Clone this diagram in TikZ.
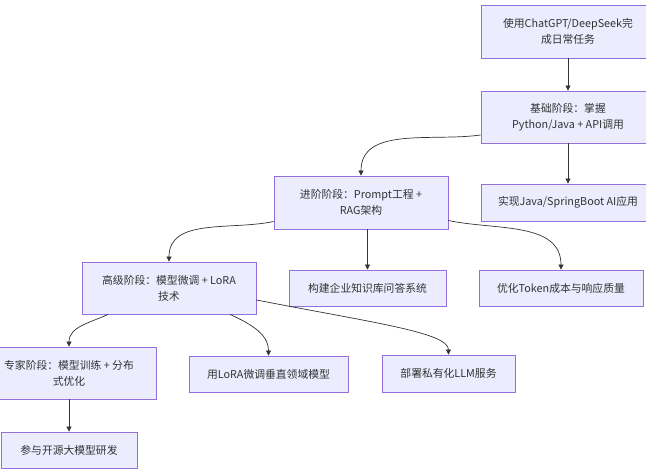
\documentclass[tikz,border=0pt]{standalone}
\usepackage{fontspec}
\setmainfont{Noto Sans CJK SC}
\usepackage{xcolor}
\usetikzlibrary{arrows.meta}
\definecolor{boxfill}{HTML}{ECECFF}
\definecolor{boxline}{HTML}{9370DB}
\definecolor{edgeline}{HTML}{333333}

\begin{document}
\begin{tikzpicture}[x=1pt, y=1pt,
  stage/.style={draw=boxline, fill=boxfill, line width=.8pt, text=edgeline, align=center, inner sep=0pt, font=\fontsize{10.8}{16}\selectfont},
  link/.style={draw=edgeline, line width=.7pt, -{Triangle[length=5pt,width=5pt]}}]
\useasboundingbox (0,0) rectangle (649,473);
\clip (0,0) rectangle (646,473);
\node[stage, minimum width=174pt, minimum height=53pt] (use) at (568,441.5) {使用ChatGPT/DeepSeek完\\成日常任务};
\node[stage, minimum width=174pt, minimum height=52pt] (basic) at (568,356) {基础阶段：掌握\\Python/Java + API调用};
\node[stage, minimum width=174pt, minimum height=37pt] (java) at (568,270.5) {实现Java/SpringBoot AI应用};
\node[stage, minimum width=174pt, minimum height=53pt] (adv) at (361,270.5) {进阶阶段：Prompt工程 +\\RAG架构};
\node[stage, minimum width=174pt, minimum height=52pt] (high) at (169,185) {高级阶段：模型微调 + LoRA\\技术};
\node[stage, minimum width=157pt, minimum height=36pt] (kb) at (367.5,185) {构建企业知识库问答系统};
\node[stage, minimum width=164pt, minimum height=36pt] (token) at (561,185) {优化Token成本与响应质量};
\node[stage, minimum width=174pt, minimum height=52pt] (expert) at (69,100) {专家阶段：模型训练 + 分布\\式优化};
\node[stage, minimum width=136pt, minimum height=36pt] (oss) at (69,23) {参与开源大模型研发};
\node[stage, minimum width=159pt, minimum height=36pt] (lora) at (268.5,99) {用LoRA微调垂直领域模型};
\node[stage, minimum width=133pt, minimum height=37pt] (llm) at (448.5,99.5) {部署私有化LLM服务};
\draw[link] (use) -- (basic);
\draw[link] (basic) -- (java);
\draw[link] ([yshift=-18pt]basic.west) to [out=188, in=90] (adv.north);
\draw[link] ([yshift=-19pt]adv.west) to [out=192, in=90] (high.north);
\draw[link] (kb.north |- adv.south) -- (kb.north);
\draw[link] ([yshift=-18pt]adv.east) to [out=-12, in=90] (token.north);
\draw[link] ([xshift=-61pt]high.south) to [out=205, in=90] (expert.north);
\draw[link] ([xshift=61pt]high.south) to [out=-25, in=90] (lora.north);
\draw[link] ([yshift=-12pt]high.east) to [out=-11, in=90, out distance=120pt, in distance=22pt] (llm.north);
\draw[link] (expert) -- (oss);
\end{tikzpicture}
\end{document}
